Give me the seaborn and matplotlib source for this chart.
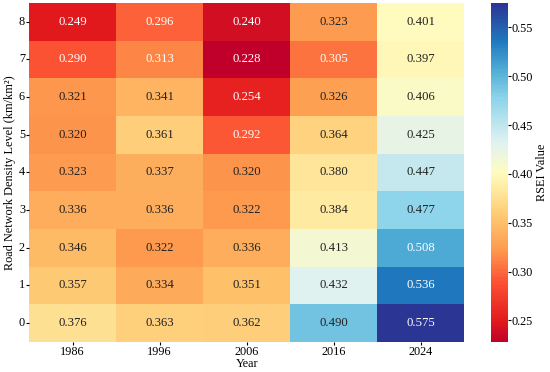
# RSEI heatmap by road network density level and year

import numpy as np
import pandas as pd
import matplotlib.pyplot as plt
import seaborn as sns
from matplotlib.colors import LinearSegmentedColormap

# Data
years = ['1986', '1996', '2006', '2016', '2024']
levels = ['8', '7', '6', '5', '4', '3', '2', '1', '0']

rsei_1986 = [0.249, 0.290, 0.321, 0.320, 0.323, 0.336, 0.346, 0.357, 0.376]
rsei_1996 = [0.296, 0.313, 0.341, 0.361, 0.337, 0.336, 0.322, 0.334, 0.363]
rsei_2006 = [0.240, 0.228, 0.254, 0.292, 0.320, 0.322, 0.336, 0.351, 0.362]
rsei_2016 = [0.323, 0.305, 0.326, 0.364, 0.380, 0.384, 0.413, 0.432, 0.490]
rsei_2024 = [0.401, 0.397, 0.406, 0.425, 0.447, 0.477, 0.508, 0.536, 0.575]

data = pd.DataFrame({'1986': rsei_1986, '1996': rsei_1996, '2006': rsei_2006,
                     '2016': rsei_2016, '2024': rsei_2024}, index=levels)

# brighter red-yellow-blue ramp
cmap = LinearSegmentedColormap.from_list('rsei', [
    (0.00, '#c0002a'), (0.06, '#e31a1c'), (0.18, '#fc5434'),
    (0.27, '#fd9a4e'), (0.36, '#fec46c'), (0.45, '#feeaa0'),
    (0.50, '#fffcc0'), (0.59, '#dff2f1'), (0.72, '#8dd3ea'),
    (0.81, '#4aa9d4'), (0.89, '#1f78bd'), (1.00, '#2b3593')])

plt.rcParams['font.family'] = ['Liberation Serif', 'DejaVu Serif']
fs = 8.8

fig = plt.figure(figsize=(5.5, 3.72), dpi=100)
ax = fig.add_axes([0.053, 0.081, 0.791, 0.911])
cax = fig.add_axes([0.893, 0.081, 0.031, 0.911])

sns.heatmap(data, ax=ax, cbar_ax=cax, cmap=cmap, annot=True, fmt='.3f',
            annot_kws={'size': 9.2}, cbar_kws={'label': 'RSEI Value'})

# annotation colour: white on the dark ends of the ramp
for txt in ax.texts:
    v = float(txt.get_text())
    txt.set_color('white' if (v < 0.318 or v > 0.5) else '#222222')

ax.set_xlabel('Year', fontsize=fs, labelpad=0)
ax.set_ylabel('Road Network Density Level (km/km²)', fontsize=fs, labelpad=2)
ax.tick_params(axis='both', labelsize=fs, length=2, pad=1)
ax.tick_params(axis='y', rotation=0)
cax.tick_params(labelsize=fs, length=2, pad=0.5)
cax.set_yticks([0.25, 0.30, 0.35, 0.40, 0.45, 0.50, 0.55])
cax.set_ylabel('RSEI Value', fontsize=fs, labelpad=2)

fig.savefig('out.png', dpi=100)
